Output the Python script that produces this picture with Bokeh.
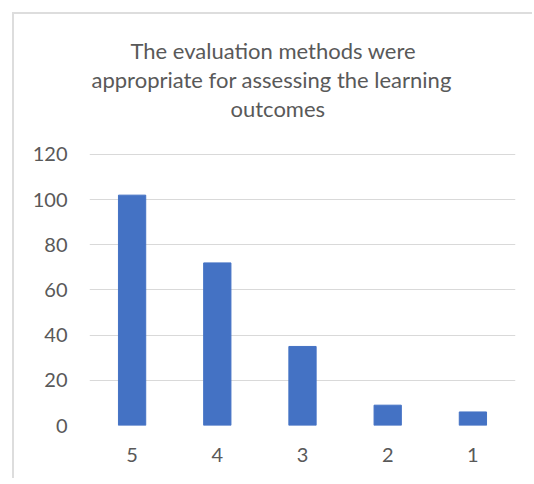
from bokeh.plotting import figure
from bokeh.models import Title, FixedTicker, Range1d
from bokeh.embed import file_html
from bokeh.resources import INLINE

categories = ["5", "4", "3", "2", "1"]
counts = [102, 72, 35, 9, 6]
y_ticks = [0, 20, 40, 60, 80, 100, 120]
title_lines = ["The evaluation methods were",
               "appropriate for assessing the learning",
               "outcomes"]
title_offsets = [41, 2, 141]

TEXT = "#595959"
FONT = "Lato"
EDGE = "#dddddd"

p = figure(x_range=categories, y_range=Range1d(0, 120.44), width=532, height=478,
           output_backend="svg", toolbar_location=None,
           min_border_left=89, min_border_right=17,
           min_border_top=153, min_border_bottom=53)
# chart-area edge (left and top), painted behind a transparent border area
p.border_fill_color = None
p.background_fill_color = "#ffffff"
p.styles = {"background": (f"linear-gradient({EDGE}, {EDGE}) 12px 12px / 2px 100% no-repeat, "
                           f"linear-gradient({EDGE}, {EDGE}) 12px 12px / 100% 2px no-repeat, "
                           "#ffffff")}

p.vbar(x=categories, top=counts, width=0.32, color="#4472C4")

p.outline_line_color = None
p.xgrid.grid_line_color = None
p.ygrid.grid_line_color = "#d9d9d9"
p.ygrid.grid_line_width = 1
p.yaxis.ticker = FixedTicker(ticks=y_ticks)

for ax in (p.xaxis[0], p.yaxis[0]):
    ax.axis_line_color = None
    ax.major_tick_line_color = None
    ax.minor_tick_line_color = None
    ax.major_label_text_color = TEXT
    ax.major_label_text_font = FONT
    ax.major_label_text_font_size = "20px"
p.yaxis.major_label_standoff = 16
p.xaxis.major_label_standoff = 16

# spacer between the title block and the plot area
p.add_layout(Title(text=" ", text_font=FONT, text_font_size="22px", standoff=3), "above")
for line, off in reversed(list(zip(title_lines, title_offsets))):
    p.add_layout(Title(text=line, align="left", offset=off, text_color=TEXT,
                       text_font=FONT, text_font_size="22px",
                       text_font_style="normal", standoff=0), "above")

open("out.html", "w").write(file_html(p, INLINE))
